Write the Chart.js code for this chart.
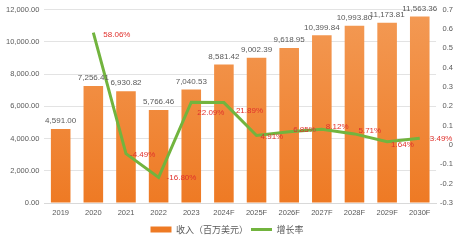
<!DOCTYPE html>
<html>
<head>
<meta charset="utf-8">
<script src="https://cdn.jsdelivr.net/npm/chart.js@4.4.0/dist/chart.umd.min.js"></script>
<style>
  html, body { margin: 0; padding: 0; background: #fff; }
</style>
</head>
<body>
<canvas id="revChart" width="456" height="240"></canvas>
<script>
var years = ['2019', '2020', '2021', '2022', '2023', '2024F', '2025F', '2026F', '2027F', '2028F', '2029F', '2030F'];
var revenue = [4591.00, 7256.41, 6930.82, 5766.46, 7040.53, 8581.42, 9002.39, 9618.95, 10399.84, 10993.80, 11173.81, 11563.36];
var growth = [null, 0.5806, -0.0449, -0.1680, 0.2209, 0.2189, 0.0491, 0.0685, 0.0812, 0.0571, 0.0164, 0.0349];

// label offsets for growth labels (dx, dy)
var growthOffsets = [[0,0],[10,2],[4,1],[8,0],[6,11],[12,8],[4,1],[4,-2],[4,-2],[4,-3],[4,3],[10,1]];

var fontFam = '"Liberation Sans", "Noto Sans CJK SC", sans-serif';
var cjkFam = '"Noto Sans CJK SC", sans-serif';

function fmt(v) {
  return v.toLocaleString('en-US', { minimumFractionDigits: 2, maximumFractionDigits: 2 });
}

var labelPlugin = {
  id: 'valueLabels',
  afterDatasetsDraw: function(chart) {
    var ctx = chart.ctx;
    ctx.save();
    ctx.font = '8px ' + fontFam;
    ctx.fillStyle = '#595959';
    ctx.textAlign = 'center';
    ctx.textBaseline = 'bottom';
    chart.getDatasetMeta(0).data.forEach(function(bar, i) {
      ctx.fillText(fmt(revenue[i]), bar.x, bar.y - 4);
    });
    ctx.fillStyle = '#E0302C';
    ctx.textAlign = 'left';
    ctx.textBaseline = 'middle';
    chart.getDatasetMeta(1).data.forEach(function(pt, i) {
      if (growth[i] === null) return;
      var o = growthOffsets[i];
      ctx.fillText((growth[i] * 100).toFixed(2) + '%', pt.x + o[0], pt.y + o[1]);
    });
    ctx.restore();
  }
};

var ctx = document.getElementById('revChart').getContext('2d');

var revChart = new Chart(ctx, {
  type: 'bar',
  data: {
    labels: years,
    datasets: [
      {
        label: '收入（百万美元）',
        data: revenue,
        yAxisID: 'y',
        backgroundColor: function(c) {
          var area = c.chart.chartArea;
          if (!area) return '#F08A3A';
          var g = c.chart.ctx.createLinearGradient(0, area.top, 0, area.bottom);
          g.addColorStop(0, '#F39A55');
          g.addColorStop(1, '#EE7A24');
          return g;
        },
        borderWidth: 0,
        barPercentage: 0.6,
        categoryPercentage: 1.0,
        pointStyle: 'rect',
        order: 2
      },
      {
        type: 'line',
        label: '增长率',
        data: growth,
        yAxisID: 'y1',
        borderColor: '#72B43E',
        backgroundColor: '#72B43E',
        borderWidth: 3,
        pointRadius: 0,
        tension: 0,
        spanGaps: false,
        pointStyle: 'line',
        order: 1
      }
    ]
  },
  options: {
    responsive: false,
    animation: false,
    devicePixelRatio: 1,
    layout: { padding: { left: 1, right: 3, top: 4, bottom: -4 } },
    plugins: {
      legend: {
        position: 'bottom',
        labels: {
          usePointStyle: true,
          pointStyleWidth: 21,
          boxHeight: 6,
          padding: 3,
          color: '#595959',
          font: { size: 9, family: cjkFam },
          sort: function(a, b) { return a.datasetIndex - b.datasetIndex; }
        }
      },
      tooltip: { enabled: false }
    },
    scales: {
      x: {
        grid: { display: false, drawTicks: false },
        border: { color: '#D9D9D9' },
        ticks: { color: '#595959', padding: 5, font: { size: 7.5, family: fontFam }, maxRotation: 0, autoSkip: false }
      },
      y: {
        position: 'left',
        min: 0,
        max: 12000,
        ticks: {
          stepSize: 2000,
          padding: 5,
          color: '#595959',
          font: { size: 7.5, family: fontFam },
          callback: function(v) { return fmt(v); }
        },
        grid: { color: '#E3E3E3', drawTicks: false },
        border: { display: false }
      },
      y1: {
        position: 'right',
        min: -0.3,
        max: 0.7,
        ticks: {
          stepSize: 0.1,
          padding: 2,
          crossAlign: 'far',
          color: '#595959',
          font: { size: 7.5, family: fontFam },
          callback: function(v) { return Math.round(v * 10) / 10; }
        },
        grid: { display: false, drawTicks: false },
        border: { display: false }
      }
    }
  },
  plugins: [labelPlugin]
});
</script>
</body>
</html>
